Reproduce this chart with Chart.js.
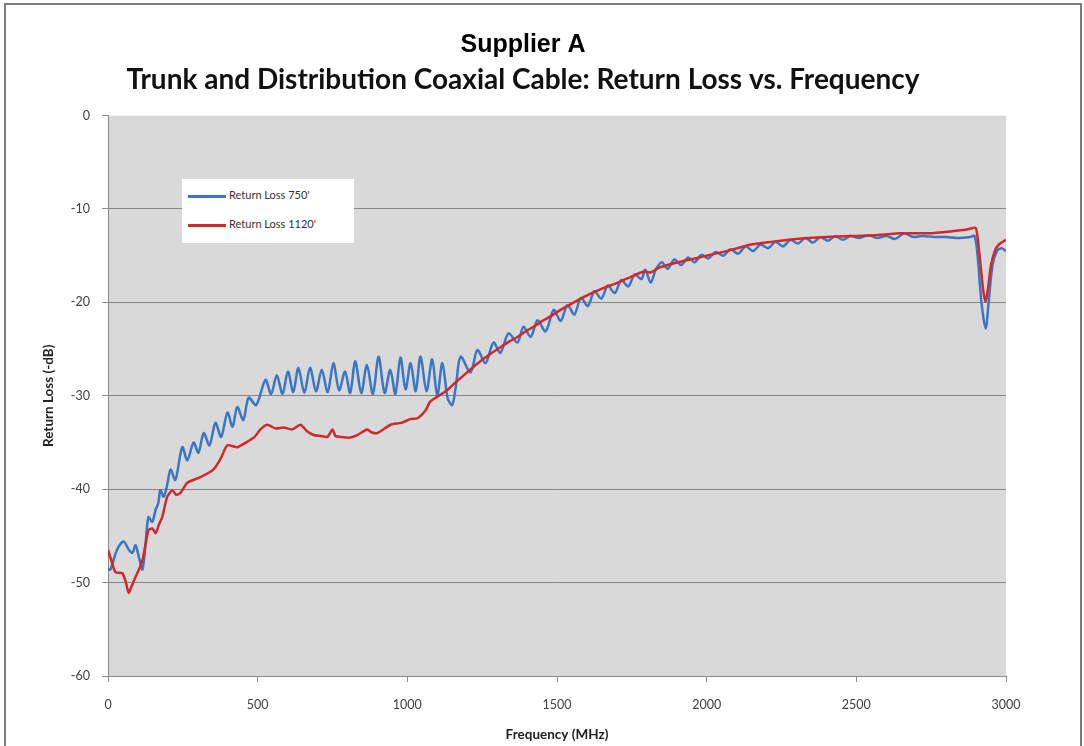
<!DOCTYPE html>
<html>
<head>
<meta charset="utf-8">
<script src="https://cdn.jsdelivr.net/npm/chart.js@4.4.0/dist/chart.umd.min.js"></script>
<style>
  html, body { margin:0; padding:0; background:#fff; overflow:hidden; }
  #wrap { position:relative; width:1084px; height:746px; }
  #frame { position:absolute; left:4px; top:3px; width:1074px; height:800px; border:2px solid #7d7d7d; pointer-events:none; }
  #legend { position:absolute; left:182px; top:179px; width:172px; height:64px; background:#fff;
            font-family:Lato, "Open Sans", sans-serif; font-size:11px; color:#333; }
  .item { position:absolute; left:6px; height:14px; line-height:14px; white-space:nowrap; }
  .item span { display:inline-block; width:38px; height:3px; vertical-align:middle; margin-right:3px; }
</style>
</head>
<body>
<div id="wrap">
  <canvas id="chart" width="1084" height="746"></canvas>
  <div id="legend"></div>
  <div id="frame"></div>
</div>
<script>
// ---------- DATA ----------
const X_TICKS = [0, 500, 1000, 1500, 2000, 2500, 3000];
const Y_TICKS = [0, -10, -20, -30, -40, -50, -60];

const LABEL_750 = "Return Loss 750'";
const LABEL_1120 = "Return Loss 1120'";

// Return Loss 750' (blue) - frequency (MHz) / loss (dB)
const freq750 = [0,8,30,52,70,82,92,105,115,125,135,148,159,168,175,186,198,209,225,248,265,286,302,320,339,359,378,399,416,432,452,470,495,
  526,545,564,583,601,619,636,656,675,695,714,734,753,772,792,809,826,846,865,885,904,924,943,960,977,994,1011,1028,1044,1064,1083,1100,1117,1135,1150,1162,1178,1211,
  1234,1261,1288,1311,1338,1368,1388,1412,1435,1462,1489,1512,1535,1558,1580,1603,1625,1648,1670,1693,1715,1738,1760,1782,1795,1813,1830,1850,1870,1892,1915,1938,1960,1983,
  2005,2030,2055,2080,2105,2130,2155,2180,2205,2230,2255,2280,2305,2330,2355,2380,2405,2430,2455,2480,2510,2540,2570,2600,2630,2660,2690,2720,2760,2800,2840,2880,2895,
  2905,2918,2932,2942,2955,2970,2985,3000];
const loss750 = [-48.5,-48.6,-46.5,-45.6,-46.5,-46.8,-46,-47.5,-48.6,-46,-43,-43.5,-42.2,-41.5,-40.1,-40.8,-39.5,-37.9,-39,-35.5,-36.9,-35,-36.1,-34,-35.3,-32.9,-34.4,-31.8,-33.3,-31.2,-32.6,-30.2,-31,
  -28.3,-29.8,-27.8,-29.8,-27.4,-29.6,-27,-29.7,-27,-29.5,-27.2,-29.6,-26.5,-29.4,-27.4,-29.7,-26.3,-29.7,-26.7,-29.8,-25.8,-29.7,-27.2,-29.8,-25.9,-29.3,-26.5,-29.5,-25.8,-29.5,-26.1,-30,-26.5,-30.3,-31,-29,-25.8,-27.5,
  -25.1,-26.5,-24.3,-25.4,-23.3,-24.3,-22.6,-23.7,-21.9,-23.1,-20.8,-22,-20.3,-21.3,-19.5,-20.4,-18.8,-19.6,-18.2,-19,-17.6,-18.3,-17,-17.5,-16.5,-17.9,-16.5,-15.7,-16.4,-15.4,-16,-15.2,-15.7,-14.9,
  -15.3,-14.6,-15,-14.3,-14.8,-14,-14.5,-13.8,-14.2,-13.5,-14,-13.3,-13.7,-13.1,-13.6,-13,-13.4,-12.9,-13.3,-12.9,-13.1,-12.8,-13.1,-12.9,-13.2,-12.6,-13,-12.9,-13,-13,-13.1,-13,-12.9,
  -15,-20,-22.8,-20,-16,-14.5,-14.2,-14.5];

// Return Loss 1120' (red)
const freq1120 = [0,10,25,48,60,69,80,92,105,115,125,135,148,159,170,181,198,215,228,242,265,309,352,375,399,432,466,490,509,532,560,587,615,643,665,687,710,733,750,760,777,805,833,866,880,900,944,980,
  1010,1034,1060,1077,1100,1133,1160,1178,1210,1244,1283,1311,1340,1368,1395,1423,1450,1478,1512,1550,1590,1645,1701,1745,1790,1813,1840,1869,1905,1946,2013,2080,2147,2220,2300,2400,2481,2560,2650,2740,2815,2870,2898,
  2905,2915,2925,2932,2940,2950,2965,2980,3000];
const loss1120 = [-46.5,-47.5,-48.9,-49,-50,-51.1,-50.3,-49.4,-48.5,-47.6,-46,-44.4,-44.2,-44.7,-43.8,-43,-40.8,-40.1,-40.6,-40.4,-39.3,-38.7,-37.9,-36.8,-35.3,-35.5,-34.9,-34.4,-33.6,-33.1,-33.5,-33.4,-33.6,-33.1,-33.8,-34.2,-34.3,-34.4,-33.6,-34.3,-34.4,-34.5,-34.2,-33.6,-33.9,-34,-33.1,-32.9,
  -32.5,-32.4,-31.6,-30.6,-30.1,-29.4,-28.6,-28.1,-27.2,-26.3,-25.4,-24.8,-24.2,-23.7,-23.1,-22.6,-22,-21.5,-20.8,-20.1,-19.4,-18.6,-17.9,-17.3,-16.7,-16.8,-16.3,-16,-15.7,-15.4,-14.9,-14.4,-13.8,-13.5,-13.2,-13,-12.9,-12.8,-12.6,-12.6,-12.4,-12.2,-12,
  -13,-16,-19,-19.9,-18.5,-16,-14.3,-13.7,-13.3];

const BLUE = "#3b76c4";
const RED = "#d3282b";

// ---------- HELPERS ----------
function toPoints(xs, ys){ return xs.map((x,i)=>({ x:x, y:ys[i] })); }

const plotBg = {
  id:"plotBg",
  beforeDraw(chart){
    const {ctx, chartArea:a} = chart;
    ctx.save();
    ctx.fillStyle = "#d9d9d9";
    ctx.fillRect(a.left, a.top, a.right-a.left, a.bottom-a.top);
    ctx.restore();
  }
};

// ---------- CHART ----------
const tickFont = { family:"Lato, 'Open Sans', sans-serif", size:12.5 };
const titleFont = { family:"Lato, 'Open Sans', sans-serif", size:13.5, weight:"bold" };

new Chart(document.getElementById("chart"), {
  type:"line",
  data:{
    datasets:[
      { label:LABEL_750, data:toPoints(freq750, loss750), borderColor:BLUE, borderWidth:2.5, pointRadius:0, tension:0.3, order:1 },
      { label:LABEL_1120, data:toPoints(freq1120, loss1120), borderColor:RED, borderWidth:2.5, pointRadius:0, tension:0.2, order:0 }
    ]
  },
  options:{
    responsive:false,
    animation:false,
    layout:{ padding:{ left:40, right:78, top:0, bottom:0 } },
    plugins:{
      legend:{ display:false },
      tooltip:{ enabled:false },
      title:{ display:true, text:"Supplier A", color:"#000",
        font:{ family:"'Liberation Sans', Arial, sans-serif", size:25, weight:"bold" },
        padding:{ top:30, bottom:3 } },
      subtitle:{ display:true, text:"Trunk and Distribution Coaxial Cable: Return Loss vs. Frequency", color:"#111",
        font:{ family:"Lato, 'Open Sans', sans-serif", size:28, weight:"bold" },
        padding:{ top:0, bottom:19 } }
    },
    scales:{
      x:{
        type:"linear", min:0, max:3000,
        afterFit(s){ s.height = 70; },
        afterBuildTicks(s){ s.ticks = X_TICKS.map(v=>({ value:v })); },
        border:{ color:"#8c8c8c", width:1 },
        grid:{ drawOnChartArea:false, drawTicks:true, tickLength:6, tickColor:"#8c8c8c" },
        ticks:{ color:"#404040", font:tickFont, padding:15, maxRotation:0, callback:(v)=>String(v) },
        title:{ display:true, text:"Frequency (MHz)", color:"#222", font:titleFont, padding:{ top:0, bottom:3 } }
      },
      y:{
        type:"linear", min:-60, max:0,
        afterFit(s){ s.width = 68; },
        afterBuildTicks(s){ s.ticks = Y_TICKS.map(v=>({ value:v })); },
        border:{ color:"#8c8c8c", width:1 },
        grid:{ color:(c)=> (c.tick && (c.tick.value===0 || c.tick.value===-60)) ? "rgba(0,0,0,0)" : "#858585",
               lineWidth:1, drawTicks:true, tickLength:6, tickColor:"#8c8c8c" },
        ticks:{ color:"#404040", font:tickFont, padding:12 },
        title:{ display:true, text:"Return Loss (-dB)", color:"#222", font:titleFont, padding:{ top:1, bottom:0 } }
      }
    }
  },
  plugins:[plotBg]
});

// ---------- LEGEND ----------
const legend = document.getElementById("legend");
[[LABEL_750, BLUE, 9], [LABEL_1120, RED, 38]].forEach(([txt, col, top])=>{
  const d = document.createElement("div");
  d.className = "item";
  d.style.top = top + "px";
  const sw = document.createElement("span");
  sw.style.background = col;
  d.appendChild(sw);
  d.appendChild(document.createTextNode(txt));
  legend.appendChild(d);
});
</script>
</body>
</html>
